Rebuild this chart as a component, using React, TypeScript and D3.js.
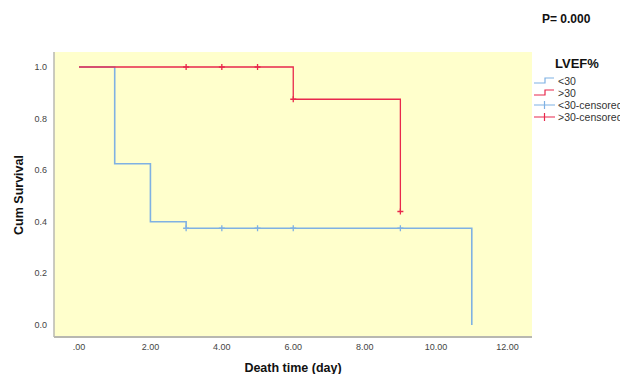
import React, { useRef, useEffect } from "react";
import * as d3 from "d3";

// Kaplan-Meier steps
const lowTimes = [0, 1, 2, 3, 11];
const lowSurv = [1.0, 0.625, 0.4, 0.375, 0.0];
const lowCensored = [3, 4, 5, 6, 9];

const highTimes = [0, 6, 9];
const highSurv = [1.0, 0.875, 0.44];
const highCensored = [3, 4, 5, 6, 9];

const xTicks = [0, 2, 4, 6, 8, 10, 12];
const yTicks = [0, 0.2, 0.4, 0.6, 0.8, 1.0];

const legendLabels = ["<30", ">30", "<30-censored", ">30-censored"];

const BLUE = "#7fb1e3";
const RED = "#e8284c";

const App = () => {
  const svgRef = useRef(null);

  useEffect(() => {
    const width = 620;
    const height = 374;
    const plot = { left: 54, top: 52, right: 532, bottom: 337 };

    const svg = d3.select(svgRef.current).attr("width", width).attr("height", height);
    svg.selectAll("*").remove();

    const x = d3.scaleLinear().domain([0, 12]).range([79, 507.5]);
    const y = d3.scaleLinear().domain([0, 1]).range([325, 67]);

    // plot background
    svg
      .append("rect")
      .attr("x", plot.left)
      .attr("y", plot.top)
      .attr("width", plot.right - plot.left)
      .attr("height", plot.bottom - plot.top)
      .attr("fill", "#ffffcc");

    // axis lines
    svg
      .append("line")
      .attr("x1", plot.left)
      .attr("x2", plot.left)
      .attr("y1", plot.top)
      .attr("y2", plot.bottom)
      .attr("stroke", "#b8b8b0")
      .attr("stroke-width", 1.5);
    svg
      .append("line")
      .attr("x1", plot.left)
      .attr("x2", plot.right)
      .attr("y1", plot.bottom)
      .attr("y2", plot.bottom)
      .attr("stroke", "#b8b8b0")
      .attr("stroke-width", 2);

    const font = "Arial, 'Liberation Sans', sans-serif";

    // tick labels
    const fmtX = (d) => d3.format(".2f")(d).replace(/^0/, "");
    svg
      .selectAll(".xtick")
      .data(xTicks)
      .enter()
      .append("text")
      .attr("x", (d) => x(d))
      .attr("y", 350)
      .attr("text-anchor", "middle")
      .attr("font-family", font)
      .attr("font-size", 9)
      .attr("fill", "#444")
      .text(fmtX);

    svg
      .selectAll(".ytick")
      .data(yTicks)
      .enter()
      .append("text")
      .attr("x", 47)
      .attr("y", (d) => y(d) + 3)
      .attr("text-anchor", "end")
      .attr("font-family", font)
      .attr("font-size", 9)
      .attr("fill", "#444")
      .text(d3.format(".1f"));

    // axis titles
    svg
      .append("text")
      .attr("x", 293)
      .attr("y", 372)
      .attr("text-anchor", "middle")
      .attr("font-family", font)
      .attr("font-size", 12.5)
      .attr("font-weight", "bold")
      .attr("fill", "#111")
      .text("Death time (day)");

    svg
      .append("text")
      .attr("transform", "translate(23,195) rotate(-90)")
      .attr("text-anchor", "middle")
      .attr("font-family", font)
      .attr("font-size", 12.5)
      .attr("font-weight", "bold")
      .attr("fill", "#111")
      .text("Cum Survival");

    svg
      .append("text")
      .attr("x", 542)
      .attr("y", 23)
      .attr("font-family", font)
      .attr("font-size", 12)
      .attr("font-weight", "bold")
      .attr("fill", "#111")
      .text("P= 0.000");

    // survival step lines
    const stepLine = d3
      .line()
      .x((d) => x(d[0]))
      .y((d) => y(d[1]))
      .curve(d3.curveStepAfter);

    const lowPts = lowTimes.map((t, i) => [t, lowSurv[i]]);
    const highPts = highTimes.map((t, i) => [t, highSurv[i]]);
    // red line ends at its last censored time
    highPts.push([d3.max(highCensored), highSurv[highSurv.length - 1]]);

    svg
      .append("path")
      .attr("d", stepLine(lowPts))
      .attr("fill", "none")
      .attr("stroke", BLUE)
      .attr("stroke-width", 1.6);

    svg
      .append("path")
      .attr("d", stepLine(highPts))
      .attr("fill", "none")
      .attr("stroke", RED)
      .attr("stroke-width", 1.3);

    // survival at time t for a step function
    const survAt = (times, surv, t) => {
      let s = surv[0];
      times.forEach((tt, i) => {
        if (tt <= t) s = surv[i];
      });
      return s;
    };

    const drawCensor = (times, surv, cens, color) => {
      svg
        .selectAll(null)
        .data(cens)
        .enter()
        .append("path")
        .attr("d", (t) => {
          const cx = x(t);
          const cy = y(survAt(times, surv, t));
          return `M${cx - 3},${cy}H${cx + 3}M${cx},${cy - 3}V${cy + 3}`;
        })
        .attr("stroke", color)
        .attr("stroke-width", 1.3)
        .attr("fill", "none");
    };

    drawCensor(lowTimes, lowSurv, lowCensored, BLUE);
    drawCensor(highTimes, highSurv, highCensored, RED);

    // legend
    svg
      .append("text")
      .attr("x", 555)
      .attr("y", 68)
      .attr("font-family", font)
      .attr("font-size", 13)
      .attr("font-weight", "bold")
      .attr("fill", "#111")
      .text("LVEF%");

    const legendY = [81, 93, 105, 117];
    const legendColors = [BLUE, RED, BLUE, RED];
    legendLabels.forEach((label, i) => {
      const ly = legendY[i];
      const g = svg.append("g");
      if (i < 2) {
        g.append("path")
          .attr("d", `M534,${ly + 2}H545V${ly - 3}H554`)
          .attr("fill", "none")
          .attr("stroke", legendColors[i])
          .attr("stroke-width", 1.2);
      } else {
        g.append("path")
          .attr("d", `M534,${ly}H555M544.5,${ly - 4}V${ly + 4}`)
          .attr("fill", "none")
          .attr("stroke", legendColors[i])
          .attr("stroke-width", 1.2);
      }
      g.append("text")
        .attr("x", 558)
        .attr("y", ly + 3.5)
        .attr("font-family", font)
        .attr("font-size", 10.5)
        .attr("fill", "#333")
        .text(label);
    });
  }, []);

  return <svg ref={svgRef} style={{ position: "absolute", left: 0, top: 0 }}></svg>;
};

export default App;
